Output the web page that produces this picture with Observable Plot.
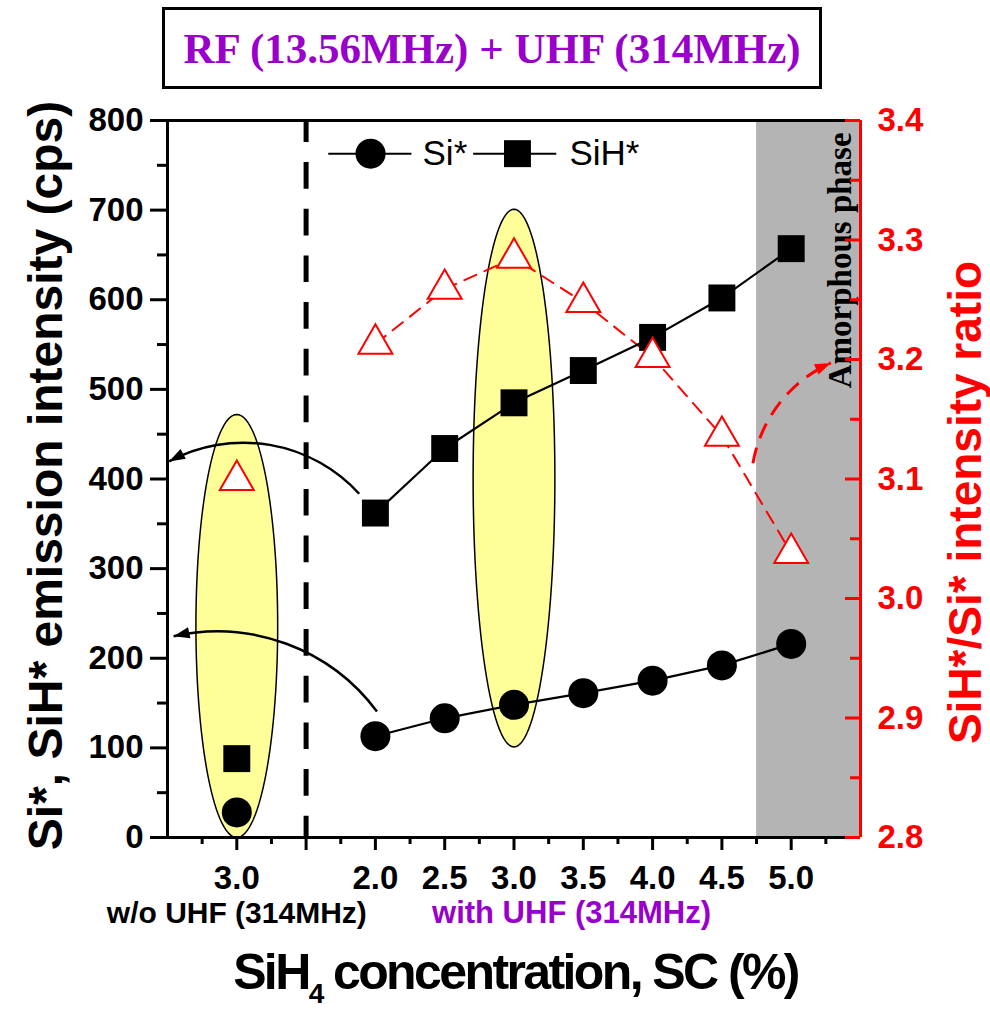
<!DOCTYPE html>
<html><head><meta charset="utf-8">
<script src="https://cdn.jsdelivr.net/npm/d3@7"></script>
<script src="https://cdn.jsdelivr.net/npm/@observablehq/plot@0.6"></script>
<style>
body{margin:0;background:#fff;}
#wrap{position:relative;width:990px;height:1010px;}
#title{position:absolute;left:162px;top:7px;width:654px;height:76px;border:3px solid #000;display:flex;align-items:center;justify-content:center;font-family:"Liberation Serif","Times New Roman",serif;font-weight:bold;font-size:43px;color:#9900cc;background:#fff;z-index:2;}
#chart{position:absolute;left:0;top:0;}
</style></head><body><div id="wrap"><div id="chart"></div><div id="title">RF (13.56MHz) + UHF (314MHz)</div></div>
<script>
// ---- data ----
const uhfConc   = [2.0, 2.5, 3.0, 3.5, 4.0, 4.5, 5.0];   // with UHF (314MHz)
const woConc    = [3.0];                                  // w/o UHF
const siUhf     = [113, 133, 148, 161, 175, 192, 216];    // Si* (cps)
const siWo      = [28];
const sihUhf    = [362, 434, 485, 521, 558, 602, 657];    // SiH* (cps)
const sihWo     = [88];
const ratioUhf  = [3.213, 3.259, 3.285, 3.248, 3.202, 3.136, 3.038]; // SiH*/Si*
const ratioWo   = [3.099];
const leftTicks  = [0, 100, 200, 300, 400, 500, 600, 700, 800];
const rightTicks = [2.8, 2.9, 3.0, 3.1, 3.2, 3.3, 3.4];
const amorphousFrom = 4.75;

// ---- layout helpers ----
const posUhf = c => (c - 2) * 2;      // slot index of the with-UHF group
const posWo = () => -2;               // slot of the w/o group
const sepPos = -1;                    // dashed separator slot
const rMin = 2.8, rMax = 3.4, yMax = 800;
const toY = r => (r - rMin) / (rMax - rMin) * yMax;

const uhf = uhfConc.map((c, i) => ({x: posUhf(c), si: siUhf[i], sih: sihUhf[i], ratio: ratioUhf[i]}));
const wo  = woConc.map((c, i) => ({x: posWo(c), si: siWo[i], sih: sihWo[i], ratio: ratioWo[i]}));
const all = [...wo, ...uhf];

const xLabelPos = [...woConc.map(posWo), ...uhfConc.map(posUhf)];
const xLabelTxt = [...woConc, ...uhfConc].map(d => d.toFixed(1));

// highlight ellipses (annotation shapes in data units)
const ellipses = [
  {id: "wo", cx: posWo(3.0), cy: 236, rx: 0.59, ry: 236},
  {id: "uhf", cx: posUhf(3.0), cy: 401, rx: 0.59, ry: 300}
];
const ellPts = ellipses.flatMap(e => d3.range(0, 121).map(k => {
  const t = k / 120 * 2 * Math.PI;
  return {id: e.id, x: e.cx + e.rx * Math.cos(t), y: e.cy + e.ry * Math.sin(t)};
}));

// curved arrows (annotations)
const arrows = [
  {x1: -0.227, y1: 383, x2: -2.97, y2: 419, bend: -38, color: "black", w: 2.5, dash: null},
  {x1: 0.03, y1: 140, x2: -2.905, y2: 224, bend: -33, color: "black", w: 2.5, dash: null},
  {x1: 5.455, y1: 417, x2: 6.58, y2: 529, bend: 28, color: "red", w: 3, dash: "16 10"}
];

const SANS = "'Liberation Sans', Arial, Helvetica, sans-serif";
const SERIF = "'Liberation Serif', 'Times New Roman', serif";

function arrowMark(index, scales) {
  const g = d3.create("svg:g");
  const defs = g.append("defs");
  arrows.forEach((a, i) => {
    const id = "arrowhead" + i;
    defs.append("marker").attr("id", id).attr("viewBox", "0 0 10 10")
      .attr("refX", 10).attr("refY", 5).attr("markerWidth", 18).attr("markerHeight", 16)
      .attr("markerUnits", "userSpaceOnUse").attr("orient", "auto")
      .append("path").attr("d", "M0,1.5L10,5L0,8.5z").attr("fill", a.color);
    const x1 = scales.x(a.x1), y1 = scales.y(a.y1), x2 = scales.x(a.x2), y2 = scales.y(a.y2);
    const L = Math.hypot(x2 - x1, y2 - y1);
    const th = a.bend * Math.PI / 180;
    const r = L / (2 * Math.sin(Math.abs(th)));
    g.append("path")
      .attr("d", `M${x1},${y1}A${r},${r} 0 0 ${th > 0 ? 1 : 0} ${x2},${y2}`)
      .attr("fill", "none").attr("stroke", a.color).attr("stroke-width", a.w)
      .attr("stroke-dasharray", a.dash).attr("marker-end", `url(#${id})`);
  });
  return g.node();
}

function xTitleMark(index, scales, values, dims) {
  const cx = dims.marginLeft + (dims.width - dims.marginLeft - dims.marginRight) / 2 + 2;
  const y = dims.height - dims.marginBottom + 152;
  const t = d3.create("svg:text").attr("x", cx).attr("y", y).attr("text-anchor", "middle")
    .attr("font-family", SANS).attr("font-weight", "bold").attr("font-size", 50)
    .attr("letter-spacing", "-2.6px").attr("fill", "black");
  t.append("tspan").text("SiH");
  t.append("tspan").attr("font-size", 28).attr("dy", 14).text("4");
  t.append("tspan").attr("dy", -14).text(" concentration, SC (%)");
  return t.node();
}

const legendY = 763;
const legend = {
  si:  {l1: -0.68, l2: 0.52, m: -0.07, t: 0.68},
  sih: {l1: 1.41, l2: 2.61, m: 2.05, t: 2.80}
};

const plot = Plot.plot({
  width: 990, height: 1010,
  marginLeft: 167, marginRight: 130, marginTop: 120, marginBottom: 173,
  x: {domain: [-3, 7]},
  y: {domain: [0, yMax]},
  style: {fontFamily: SANS, background: "transparent", overflow: "visible"},
  marks: [
    // amorphous phase region
    Plot.rect([{x1: posUhf(amorphousFrom), x2: 7, y1: 0, y2: yMax}], {x1: "x1", x2: "x2", y1: "y1", y2: "y2", fill: "#b4b4b4"}),
    // yellow ellipses
    Plot.line(ellPts, {x: "x", y: "y", z: "id", fill: "#ffff99", stroke: "black", strokeWidth: 1.5, curve: "linear-closed"}),
    // separator
    Plot.ruleX([sepPos], {y1: yMax, y2: 0, stroke: "black", strokeWidth: 5, strokeDasharray: "26.7 20", strokeDashoffset: 4.7}),
    // ratio dashed line (with UHF only)
    Plot.line(uhf, {x: "x", y: d => toY(d.ratio), stroke: "red", strokeWidth: 2, strokeDasharray: "13 9"}),
    // arrows
    arrowMark,
    // Si* and SiH* lines
    Plot.line(uhf, {x: "x", y: "sih", stroke: "black", strokeWidth: 2.2}),
    Plot.line(uhf, {x: "x", y: "si", stroke: "black", strokeWidth: 2.2}),
    Plot.dot(all, {x: "x", y: "sih", symbol: "square", r: 15.2, fill: "black", stroke: "none"}),
    Plot.dot(all, {x: "x", y: "si", symbol: "circle", r: 15, fill: "black", stroke: "none"}),
    Plot.dot(all, {x: "x", y: d => toY(d.ratio), symbol: "triangle", r: 12.6, fill: "white", stroke: "red", strokeWidth: 2}),
    // Amorphous phase label
    Plot.text(["Amorphous phase"], {x: 6.71, y: 644, rotate: -90, fontFamily: SERIF, fontWeight: "bold", fontSize: 33, fill: "black", textAnchor: "middle", lineAnchor: "middle"}),
    // legend
    Plot.link([legend.si, legend.sih], {x1: "l1", x2: "l2", y1: legendY, y2: legendY, stroke: "black", strokeWidth: 2}),
    Plot.dot([legend.si], {x: "m", y: legendY, r: 15, fill: "black", stroke: "none"}),
    Plot.dot([legend.sih], {x: "m", y: legendY, symbol: "square", r: 15.2, fill: "black", stroke: "none"}),
    Plot.text([{...legend.si, s: "Si*"}, {...legend.sih, s: "SiH*"}], {x: "t", y: legendY, text: "s", textAnchor: "start", lineAnchor: "middle", fontSize: 35, fontFamily: SANS, fill: "black"}),
    // frame
    Plot.ruleY([yMax], {stroke: "black", strokeWidth: 3}),
    Plot.ruleY([0], {stroke: "black", strokeWidth: 3}),
    Plot.ruleX([-3], {stroke: "black", strokeWidth: 3}),
    // left axis
    Plot.axisY({anchor: "left", ticks: leftTicks, tickSize: 17, tickPadding: 7, strokeWidth: 3, fontSize: 33, fontWeight: "bold", fill: "black", stroke: "black", label: null, tickFormat: d => String(d)}),
    Plot.axisY({anchor: "left", ticks: leftTicks.slice(0, -1).map(d => d + 50), tickSize: 10, strokeWidth: 3, stroke: "black", label: null, tickFormat: () => ""}),
    // bottom axis
    Plot.axisX({anchor: "bottom", ticks: d3.range(-2, 7), tickSize: 13, strokeWidth: 3, stroke: "black", label: null, tickFormat: () => ""}),
    Plot.axisX({anchor: "bottom", ticks: d3.range(-2.5, 7, 1), tickSize: 7, strokeWidth: 3, stroke: "black", label: null, tickFormat: () => ""}),
    Plot.axisX({anchor: "bottom", ticks: xLabelPos, tickSize: 0, tickPadding: 28, fontSize: 33, fontWeight: "bold", fill: "black", label: null, tickFormat: d => xLabelTxt[xLabelPos.indexOf(d)]}),
    // right axis (red)
    Plot.ruleX([7], {stroke: "red", strokeWidth: 3}),
    Plot.axisY({anchor: "left", dx: 693, ticks: rightTicks.map(toY), tickSize: 15, strokeWidth: 3, stroke: "red", label: null, tickFormat: () => ""}),
    Plot.axisY({anchor: "left", dx: 693, ticks: rightTicks.slice(0, -1).map(r => toY(r + 0.05)), tickSize: 10, strokeWidth: 3, stroke: "red", label: null, tickFormat: () => ""}),
    Plot.axisY({anchor: "right", ticks: rightTicks.map(toY), tickSize: 0, tickPadding: 17, fontSize: 33, fontWeight: "bold", fill: "red", label: null, tickFormat: d => (rMin + d / yMax * (rMax - rMin)).toFixed(1)}),
    // group captions under the x axis
    Plot.text(["w/o UHF (314MHz)"], {x: posWo(3.0), frameAnchor: "bottom", dy: 85, lineAnchor: "bottom", textAnchor: "middle", fontSize: 30, fontWeight: "bold", fill: "black"}),
    Plot.text(["with UHF (314MHz)"], {x: 2.83, frameAnchor: "bottom", dy: 85, lineAnchor: "bottom", textAnchor: "middle", fontSize: 31, fontWeight: "bold", fill: "#9900cc"}),
    // axis titles
    Plot.text(["Si*, SiH* emission intensity (cps)"], {frameAnchor: "left", dx: -121, dy: -3.5, rotate: -90, textAnchor: "middle", lineAnchor: "middle", fontSize: 48, fontWeight: "bold", fill: "black"}),
    Plot.text(["SiH*/Si* intensity ratio"], {frameAnchor: "right", dx: 106, dy: 23.5, rotate: -90, textAnchor: "middle", lineAnchor: "middle", fontSize: 46, fontWeight: "bold", fill: "red"}),
    xTitleMark
  ]
});
document.getElementById("chart").appendChild(plot);
</script>
</body></html>
